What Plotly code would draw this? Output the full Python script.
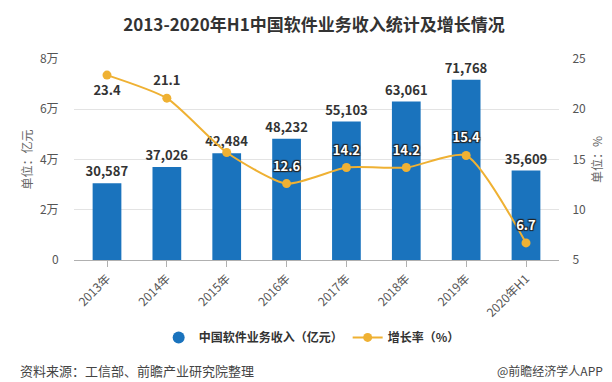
import plotly.graph_objects as go

categories = ["2013年", "2014年", "2015年", "2016年", "2017年", "2018年", "2019年", "2020年H1"]
revenue = [30587, 37026, 42484, 48232, 55103, 63061, 71768, 35609]
growth = [23.4, 21.1, 15.7, 12.6, 14.2, 14.2, 15.4, 6.7]
growth_labels = ["23.4", "21.1", "", "12.6", "14.2", "14.2", "15.4", "6.7"]
label_inside = [False, False, False, True, True, True, True, True]
label_pos = ["bottom center", "top center", "top center", "top center",
             "top center", "top center", "top center", "top center"]
left_ticks = [0, 20000, 40000, 60000, 80000]
left_ticktext = ["0", "2万", "4万", "6万", "8万"]
right_ticks = [5, 10, 15, 20, 25]

BLUE = "#1a73bd"
ORANGE = "#efb133"
FONT = "Noto Sans CJK SC"

fig = go.Figure()
fig.add_trace(go.Bar(
    x=categories, y=revenue, name="中国软件业务收入（亿元）",
    marker=dict(color=BLUE, line=dict(width=0)),
    text=[f"{v:,}" for v in revenue], textposition="outside", constraintext="none",
    textfont=dict(family=FONT, size=13, color="#333333", weight="bold"),
    cliponaxis=False, yaxis="y", showlegend=False,
))
# legend-only entry with a circle symbol for the bar series
fig.add_trace(go.Scatter(
    x=[None], y=[None], name="中国软件业务收入（亿元）", mode="markers",
    marker=dict(color=BLUE, size=12, symbol="circle"), yaxis="y",
))
fig.add_trace(go.Scatter(
    x=categories, y=growth, name="增长率（%）", mode="lines+markers",
    line=dict(color=ORANGE, width=2, shape="spline", smoothing=0.6),
    marker=dict(color=ORANGE, size=9, symbol="circle"),
    yaxis="y2", cliponaxis=False,
))
# labels outside bars (dark)
fig.add_trace(go.Scatter(
    x=[c for c, i in zip(categories, label_inside) if not i],
    y=[g for g, i in zip(growth, label_inside) if not i],
    text=[t for t, i in zip(growth_labels, label_inside) if not i],
    textposition=[p for p, i in zip(label_pos, label_inside) if not i],
    mode="markers+text", marker=dict(size=14, color="rgba(0,0,0,0)"),
    yaxis="y2", showlegend=False, cliponaxis=False,
    textfont=dict(family=FONT, size=13, color="#333333", weight="bold"),
    hoverinfo="skip",
))
# labels inside bars (white, outlined)
fig.add_trace(go.Scatter(
    x=[c for c, i in zip(categories, label_inside) if i],
    y=[g for g, i in zip(growth, label_inside) if i],
    text=[t for t, i in zip(growth_labels, label_inside) if i],
    textposition=[p for p, i in zip(label_pos, label_inside) if i],
    mode="markers+text", marker=dict(size=14, color="rgba(0,0,0,0)"),
    yaxis="y2", showlegend=False, cliponaxis=False,
    textfont=dict(family=FONT, size=13, color="#ffffff", weight="bold",
                  shadow="1px 1px 1px #222, -1px -1px 1px #222, 1px -1px 1px #222, -1px 1px 1px #222"),
    hoverinfo="skip",
))

fig.update_layout(
    width=612, height=382,
    margin=dict(l=66, r=61, t=51, b=130),
    paper_bgcolor="white", plot_bgcolor="white",
    font=dict(family=FONT, color="#666666", size=12),
    title=dict(text="<b>2013-2020年H1中国软件业务收入统计及增长情况</b>",
               x=0.5, xanchor="center", y=0.955, yanchor="middle",
               font=dict(family=FONT, size=17, color="#333333")),
    bargap=0.52,
    showlegend=True,
    legend=dict(orientation="h", x=0.49, xanchor="center", y=-0.385, yanchor="middle",
                font=dict(family=FONT, size=12, color="#333333", weight="bold"),
                itemwidth=30, traceorder="normal"),
    xaxis=dict(showline=True, linecolor="#b0b0b0", linewidth=1,
               ticks="outside", ticklen=6, tickcolor="#b0b0b0",
               tickangle=-45, tickfont=dict(size=12, color="#555555"),
               showgrid=False),
    yaxis=dict(range=[0, 80000], tickvals=left_ticks, ticktext=left_ticktext,
               showgrid=True, gridcolor="#e3e3e3", zeroline=False,
               ticks="outside", ticklen=12, tickcolor="rgba(0,0,0,0)",
               tickfont=dict(size=12, color="#555555"),
               title=dict(text="单位：亿元", font=dict(size=12, color="#666666"), standoff=4)),
    yaxis2=dict(range=[5, 25], tickvals=right_ticks, overlaying="y", side="right",
                showgrid=False, zeroline=False,
                ticks="outside", ticklen=10, tickcolor="rgba(0,0,0,0)",
                tickfont=dict(size=12, color="#555555"),
                title=dict(text="单位：%", font=dict(size=12, color="#666666"), standoff=8)),
    annotations=[
        dict(text="资料来源：工信部、前瞻产业研究院整理", xref="paper", yref="paper",
             x=-0.115, y=-0.548, xanchor="left", yanchor="middle", showarrow=False,
             font=dict(family=FONT, size=13, color="#444444")),
        dict(text="@前瞻经济学人APP", xref="paper", yref="paper",
             x=1.095, y=-0.548, xanchor="right", yanchor="middle", showarrow=False,
             font=dict(family=FONT, size=12, color="#444444")),
    ],
)

fig.write_html("out.html")
